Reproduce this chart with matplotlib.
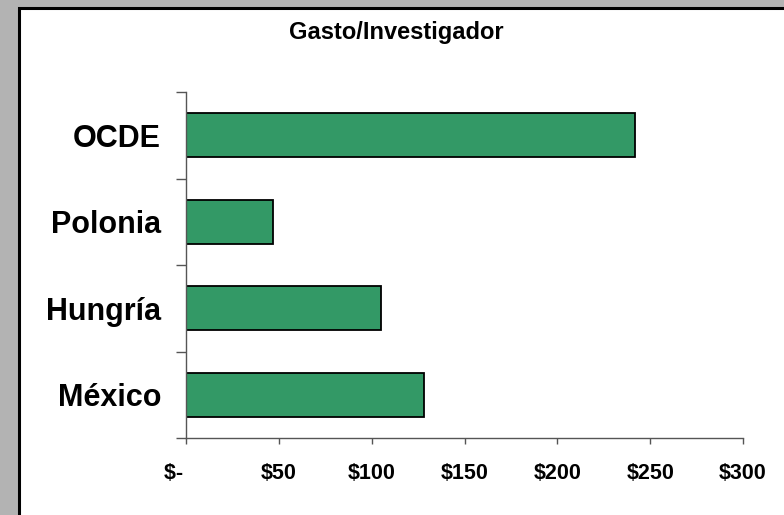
import matplotlib.pyplot as plt
from matplotlib.patches import Rectangle
from matplotlib.ticker import FixedLocator

plt.rcParams['font.family'] = ['Liberation Sans', 'DejaVu Sans']

categories = ["México", "Hungría", "Polonia", "OCDE"]
values = [128, 105, 47, 242]
xticks = [0, 50, 100, 150, 200, 250, 300]
xtick_labels = ["$-    ", "$50", "$100", "$150", "$200", "$250", "$300"]

fig = plt.figure(figsize=(7.84, 5.15), dpi=100)
fig.patch.set_facecolor('#b3b3b3')

# white panel with black border, running off the right/bottom edge
panel = Rectangle((19 / 784, -0.05), 1.0, 1 - 8 / 515 + 0.05,
                  transform=fig.transFigure, facecolor='white',
                  edgecolor='black', linewidth=2.2, zorder=-5)
fig.patches.append(panel)

ax = fig.add_axes([186 / 784, 1 - 438 / 515, (743 - 186) / 784, (438 - 92) / 515])
ax.set_facecolor('none')

pos = range(len(categories))
ax.barh(pos, values, height=0.51, color='#339966', edgecolor='black', linewidth=1.3)

ax.set_xlim(0, 300)
ax.set_ylim(-0.5, len(categories) - 0.5)

ax.set_xticks(xticks)
ax.set_xticklabels(xtick_labels, fontsize=15.5, fontweight='bold')
ax.tick_params(axis='x', direction='out', length=4.5, width=1, color='#555555', pad=13.5)

ax.set_yticks(list(pos))
ax.set_yticklabels(categories, fontsize=22, fontweight='bold')
ax.tick_params(axis='y', which='major', length=0, pad=18)
ax.yaxis.set_minor_locator(FixedLocator([p - 0.5 for p in range(len(categories) + 1)]))
ax.tick_params(axis='y', which='minor', direction='out', length=7.2, width=1, color='#555555')

for side in ['top', 'right']:
    ax.spines[side].set_visible(False)
for side in ['left', 'bottom']:
    ax.spines[side].set_color('#555555')
    ax.spines[side].set_linewidth(1)

fig.text(396 / 784, 1 - 33 / 515, "Gasto/Investigador", ha='center', va='center',
         fontsize=17, fontweight='bold')

fig.savefig('out.png', dpi=100, facecolor=fig.get_facecolor())
